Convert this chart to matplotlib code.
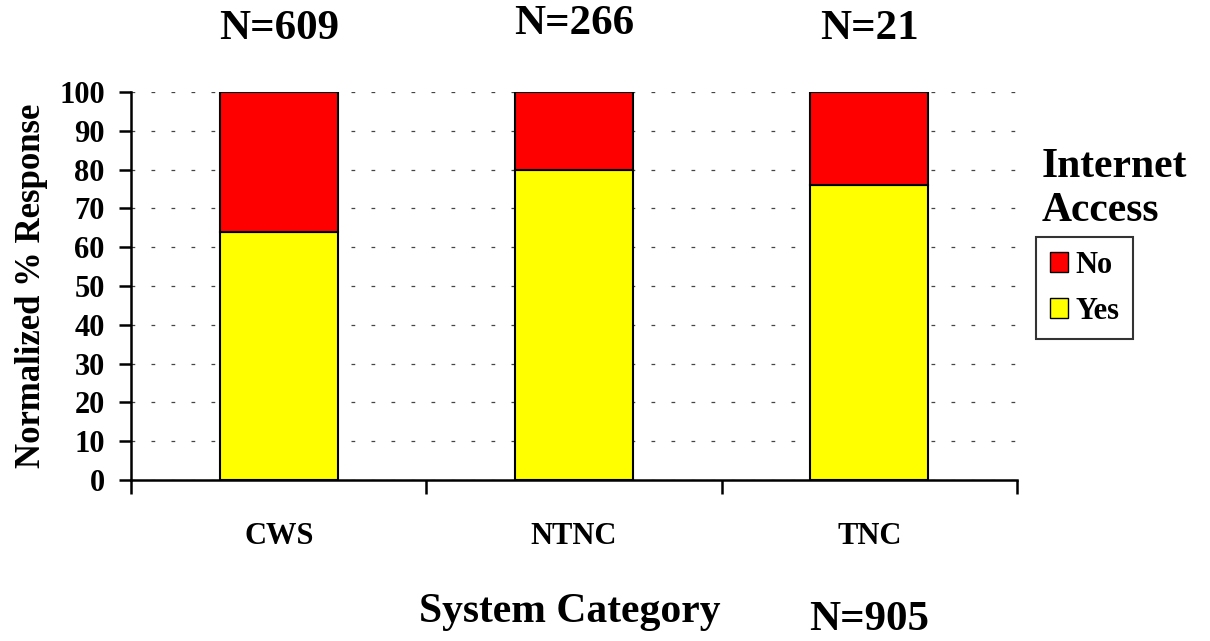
import numpy as np
import matplotlib.pyplot as plt
from matplotlib.patches import Patch
from matplotlib.transforms import blended_transform_factory

plt.rcParams['font.family'] = ['Liberation Serif', 'DejaVu Serif']
plt.rcParams['font.weight'] = 'bold'

categories = ['CWS', 'NTNC', 'TNC']
yes_pct = [64, 80, 76]
no_pct = [36, 20, 24]
n_labels = ['N=609', 'N=266', 'N=21']
total_label = 'N=905'

fig = plt.figure(figsize=(12.1, 6.41), dpi=100)
ax = fig.add_axes([0.1083, 0.2512, 0.7322, 0.6053])

x = np.arange(len(categories))
w = 0.4
ax.bar(x, yes_pct, w, color='#ffff00', edgecolor='black', linewidth=1.5, zorder=3, label='Yes')
ax.bar(x, no_pct, w, bottom=yes_pct, color='#ff0000', edgecolor='black', linewidth=1.5, zorder=3, label='No')

ax.set_xlim(-0.5, 2.5)
ax.set_ylim(0, 100)
ax.set_yticks(np.arange(0, 101, 10))
ax.tick_params(axis='y', direction='out', length=9, width=1.8, labelsize=22, pad=10)
for lab in ax.get_yticklabels():
    lab.set_fontweight('bold')

# category boundaries as major ticks, names as minor ticks
ax.set_xticks([-0.5, 0.5, 1.5, 2.5])
ax.set_xticklabels([])
ax.tick_params(axis='x', which='major', direction='out', length=10, width=1.8)
ax.set_xticks(x, minor=True)
ax.set_xticklabels(categories, minor=True, fontsize=22, fontweight='bold')
ax.tick_params(axis='x', which='minor', length=0, pad=30)

ax.spines['top'].set_visible(False)
ax.spines['right'].set_visible(False)
ax.spines['left'].set_linewidth(1.8)
ax.spines['bottom'].set_linewidth(1.8)

ax.yaxis.grid(True, linestyle=(0, (3, 13)), color='#444444', linewidth=0.9, zorder=0)
ax.set_axisbelow(True)

ax.set_ylabel('Normalized % Response', fontsize=25, fontweight='bold', labelpad=8)

tr = blended_transform_factory(ax.transData, fig.transFigure)
n_y = [0.955, 0.963, 0.955]
for xi, lab, yy in zip(x, n_labels, n_y):
    ax.text(xi, yy, lab, transform=tr, ha='center', va='center', fontsize=31, fontweight='bold')

fig.text(0.471, 0.046, 'System Category', ha='center', va='center', fontsize=30, fontweight='bold')
ax.text(2, 0.032, total_label, transform=tr, ha='center', va='center', fontsize=31, fontweight='bold')

fig.text(0.861, 0.705, 'Internet\nAccess', ha='left', va='center', fontsize=30,
         fontweight='bold', linespacing=1.2)

handles = [Patch(facecolor='#ff0000', edgecolor='black', label='No'),
           Patch(facecolor='#ffff00', edgecolor='black', label='Yes')]
leg = fig.legend(handles=handles, loc='upper left', bbox_to_anchor=(0.856, 0.630),
                 frameon=True, fancybox=False, edgecolor='black', fontsize=22,
                 handlelength=0.6, handleheight=0.6, handletextpad=0.25,
                 labelspacing=0.55, borderpad=0.45, borderaxespad=0)
leg.get_frame().set_linewidth(1.5)
for t in leg.get_texts():
    t.set_fontweight('bold')

fig.savefig('out.png', dpi=100)
